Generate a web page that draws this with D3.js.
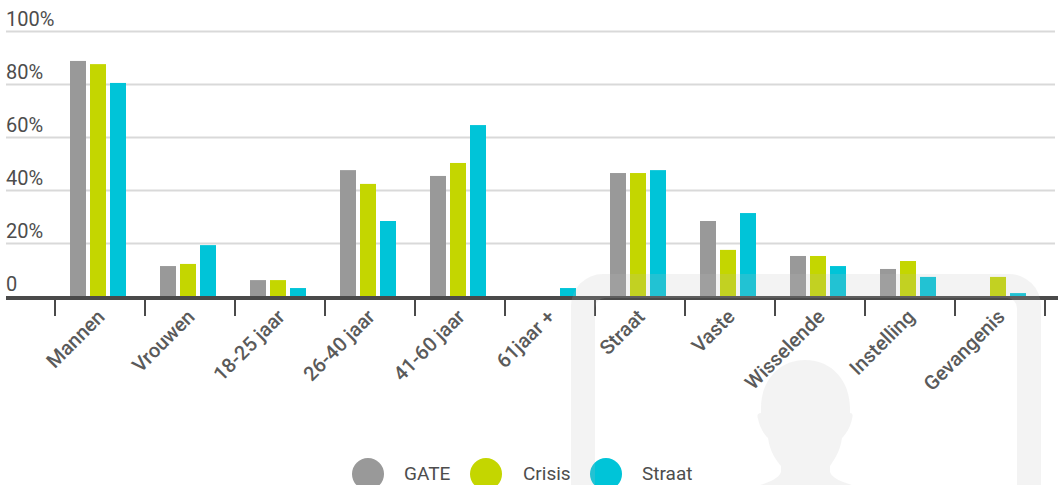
<!DOCTYPE html>
<html>
<head>
<meta charset="utf-8">
<script src="https://cdn.jsdelivr.net/npm/d3@7"></script>
<style>
  html, body { margin: 0; padding: 0; background: #fff; overflow: hidden; }
  text { font-family: Roboto, sans-serif; fill: #4d4d4d; }
</style>
</head>
<body>
<div id="wrapper"></div>
<script>
const categories = ["Mannen", "Vrouwen", "18-25 jaar", "26-40 jaar", "41-60 jaar", "61jaar +",
  "Straat", "Vaste", "Wisselende", "Instelling", "Gevangenis"]
const seriesNames = ["GATE", "Crisis", "Straat"]
const seriesColors = ["#999999", "#c4d600", "#00c4d8"]

const gate = [88.7, 11.3, 6, 47.5, 45.3, 0, 46.4, 28.3, 15.1, 10.2, 0]
const crisis = [87.5, 12.1, 6, 42.3, 50.2, 0, 46.4, 17.4, 15.1, 13.2, 7.2]
const straat = [80.4, 19.2, 3, 28.3, 64.5, 3, 47.5, 31.3, 11.3, 7.2, 1.1]
const seriesValues = [gate, crisis, straat]

const yTicks = [0, 20, 40, 60, 80, 100]

const dimensions = { width: 1061, height: 485, left: 6, right: 1055, axisEnd: 1058, top: 31, bottom: 296 }

const svg = d3.select("#wrapper").append("svg")
    .attr("width", dimensions.width)
    .attr("height", dimensions.height)
    .style("display", "block")

const x0 = d3.scaleBand()
    .domain(categories)
    .range([55, 1045])

const x1 = d3.scaleBand()
    .domain(seriesNames)
    .range([13, 73])
    .paddingInner(0.2)
    .paddingOuter(0.1)

const y = d3.scaleLinear()
    .domain([0, 100])
    .range([dimensions.bottom, dimensions.top])

// gridlines and percentage labels
const yAxis = svg.append("g")
    .attr("transform", `translate(${dimensions.left}, 0)`)
    .call(d3.axisLeft(y)
        .tickValues(yTicks)
        .tickSize(-(dimensions.right - dimensions.left))
        .tickFormat(d => d === 0 ? "0" : d + "%"))

yAxis.select(".domain").remove()
yAxis.selectAll(".tick line")
    .attr("stroke", "#d9d9d9")
    .attr("stroke-width", 2)
yAxis.selectAll(".tick").filter(d => d === 0).select("line").remove()
yAxis.selectAll(".tick text")
    .attr("x", 0)
    .attr("y", -6)
    .attr("dy", 0)
    .attr("text-anchor", "start")
    .style("font-size", "20px")

// grouped bars
const groups = svg.append("g").selectAll("g")
    .data(categories)
    .join("g")
    .attr("transform", d => `translate(${x0(d)}, 0)`)

groups.selectAll("rect")
    .data((d, i) => seriesNames.map((name, s) => ({ name, color: seriesColors[s], value: seriesValues[s][i] })))
    .join("rect")
    .attr("x", d => x1(d.name))
    .attr("y", d => y(d.value))
    .attr("width", x1.bandwidth())
    .attr("height", d => y(0) - y(d.value))
    .attr("fill", d => d.color)

// baseline with ticks between the categories
const xAxis = svg.append("g")
svg.append("line")
    .attr("x1", dimensions.left)
    .attr("x2", dimensions.axisEnd)
    .attr("y1", y(0) + 2)
    .attr("y2", y(0) + 2)
    .attr("stroke", "#4a4a4a")
    .attr("stroke-width", 4)

xAxis.selectAll("line")
    .data([...categories.map(d => x0(d)), x0.range()[1]])
    .join("line")
    .attr("x1", d => d)
    .attr("x2", d => d)
    .attr("y1", y(0) + 4)
    .attr("y2", y(0) + 20)
    .attr("stroke", "#4a4a4a")
    .attr("stroke-width", 2)

xAxis.selectAll("text")
    .data(categories)
    .join("text")
    .attr("transform", d => `translate(${x0(d) + x0.bandwidth() / 2 + 6}, ${y(0) + 22}) rotate(-45)`)
    .attr("text-anchor", "end")
    .style("font-size", "20px")
    .style("font-weight", 500)
    .style("fill", "#5a5a5a")
    .text(d => d)

// legend
const legendCircles = [368, 486, 606]
const legendLabels = [404, 523, 642]
const legend = svg.append("g").selectAll("g")
    .data(seriesNames)
    .join("g")

legend.append("circle")
    .attr("cx", (d, i) => legendCircles[i])
    .attr("cy", 474)
    .attr("r", 16)
    .attr("fill", (d, i) => seriesColors[i])

legend.append("text")
    .attr("x", (d, i) => legendLabels[i])
    .attr("y", 480)
    .style("font-size", "19px")
    .text(d => d)

// faint portrait frame laid over the whole chart
const frame = svg.append("g")
    .attr("fill", "#bdbdbd")
    .attr("fill-opacity", 0.18)

frame.append("path")
    .attr("fill-rule", "evenodd")
    .attr("d", "M571 500V306a32 32 0 0 1 32-32H1009a32 32 0 0 1 32 32V500H1017V308a10 10 0 0 0-10-10H605a10 10 0 0 0-10 10V500Z")

frame.append("path")
    .attr("d", "M805 360C833 360 850 382 850 408V413C853 413 853 416 852 419C850 428 846 434 842 438C840 452 834 460 830 466V472C832 478 842 482 852 485H760C770 482 779 478 781 472V466C776 460 770 452 768 438C764 434 760 428 758 419C757 416 757 413 761 413V408C761 382 778 360 805 360Z")
</script>
</body>
</html>
